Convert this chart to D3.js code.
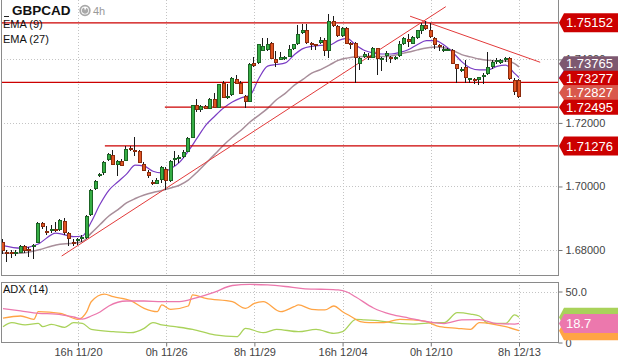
<!DOCTYPE html>
<html>
<head>
<meta charset="utf-8">
<script src="https://cdn.jsdelivr.net/npm/d3@7"></script>
<style>
body { margin: 0; background: #fff; }
svg { display: block; font-family: "Liberation Sans", Arial, sans-serif; }
</style>
</head>
<body>
<div id="chart"></div>
<script>
// GBPCAD 4h candles, index 0..117
const opens = [
  1.6826, 1.6795, 1.6794, 1.6790, 1.6792, 1.6813, 1.6803, 1.6808, 1.6823, 1.6886,
  1.6861, 1.6861, 1.6866, 1.6863, 1.6892, 1.6852, 1.6825, 1.6829, 1.6834, 1.6837,
  1.6910, 1.6991, 1.7032, 1.7041, 1.7083, 1.7098, 1.7067, 1.7080, 1.7081, 1.7121,
  1.7116, 1.7111, 1.7072, 1.7046, 1.7013, 1.7009, 1.7020, 1.7056, 1.7017, 1.7085,
  1.7087, 1.7093, 1.7109, 1.7154, 1.7255, 1.7242, 1.7252, 1.7245, 1.7274, 1.7248,
  1.7327, 1.7277, 1.7287, 1.7339, 1.7327, 1.7284, 1.7266, 1.7388, 1.7389, 1.7428,
  1.7431, 1.7451, 1.7401, 1.7399, 1.7401, 1.7407, 1.7433, 1.7447, 1.7482, 1.7494,
  1.7452, 1.7447, 1.7451, 1.7462, 1.7428, 1.7521, 1.7505, 1.7474, 1.7500, 1.7453,
  1.7453, 1.7384, 1.7406, 1.7412, 1.7404, 1.7436, 1.7400, 1.7411, 1.7407, 1.7401,
  1.7412, 1.7449, 1.7465, 1.7450, 1.7466, 1.7488, 1.7507, 1.7491, 1.7467, 1.7444,
  1.7428, 1.7428, 1.7430, 1.7384, 1.7365, 1.7376, 1.7338, 1.7338, 1.7334, 1.7346,
  1.7355, 1.7376, 1.7391, 1.7388, 1.7397, 1.7405, 1.7334, 1.7334
];
const highs = [
  1.6835, 1.6800, 1.6800, 1.6800, 1.6816, 1.6816, 1.6810, 1.6819, 1.6889, 1.6888,
  1.6875, 1.6879, 1.6889, 1.6897, 1.6900, 1.6856, 1.6834, 1.6838, 1.6847, 1.6910,
  1.6992, 1.7020, 1.7042, 1.7079, 1.7106, 1.7114, 1.7083, 1.7086, 1.7127, 1.7127,
  1.7156, 1.7114, 1.7076, 1.7051, 1.7020, 1.7026, 1.7064, 1.7061, 1.7083, 1.7111,
  1.7098, 1.7114, 1.7155, 1.7258, 1.7275, 1.7255, 1.7255, 1.7277, 1.7295, 1.7324,
  1.7331, 1.7321, 1.7346, 1.7350, 1.7331, 1.7287, 1.7390, 1.7406, 1.7450, 1.7466,
  1.7466, 1.7456, 1.7428, 1.7423, 1.7412, 1.7444, 1.7450, 1.7507, 1.7512, 1.7512,
  1.7456, 1.7450, 1.7472, 1.7466, 1.7543, 1.7538, 1.7507, 1.7503, 1.7503, 1.7456,
  1.7456, 1.7409, 1.7422, 1.7419, 1.7439, 1.7437, 1.7409, 1.7428, 1.7412, 1.7412,
  1.7459, 1.7472, 1.7480, 1.7475, 1.7494, 1.7516, 1.7522, 1.7516, 1.7472, 1.7447,
  1.7441, 1.7437, 1.7434, 1.7387, 1.7375, 1.7397, 1.7343, 1.7343, 1.7346, 1.7356,
  1.7423, 1.7397, 1.7403, 1.7400, 1.7409, 1.7409, 1.7340, 1.7337
];
const lows = [
  1.6787, 1.6763, 1.6775, 1.6781, 1.6791, 1.6791, 1.6779, 1.6771, 1.6821, 1.6866,
  1.6847, 1.6853, 1.6857, 1.6860, 1.6847, 1.6813, 1.6813, 1.6816, 1.6825, 1.6835,
  1.6907, 1.6988, 1.7029, 1.7036, 1.7080, 1.7067, 1.7033, 1.7064, 1.7080, 1.7111,
  1.7095, 1.7073, 1.7048, 1.7026, 1.7004, 1.7007, 1.7010, 1.6988, 1.7014, 1.7064,
  1.7073, 1.7089, 1.7108, 1.7152, 1.7234, 1.7234, 1.7243, 1.7243, 1.7246, 1.7246,
  1.7277, 1.7275, 1.7284, 1.7321, 1.7290, 1.7246, 1.7265, 1.7375, 1.7387, 1.7425,
  1.7428, 1.7400, 1.7376, 1.7397, 1.7397, 1.7406, 1.7431, 1.7445, 1.7481, 1.7450,
  1.7431, 1.7431, 1.7450, 1.7412, 1.7404, 1.7503, 1.7472, 1.7472, 1.7447, 1.7434,
  1.7327, 1.7368, 1.7403, 1.7397, 1.7403, 1.7350, 1.7365, 1.7391, 1.7390, 1.7397,
  1.7409, 1.7444, 1.7438, 1.7447, 1.7463, 1.7481, 1.7494, 1.7468, 1.7434, 1.7428,
  1.7422, 1.7425, 1.7384, 1.7327, 1.7359, 1.7327, 1.7327, 1.7323, 1.7318, 1.7323,
  1.7350, 1.7371, 1.7387, 1.7384, 1.7393, 1.7334, 1.7287, 1.7280
];
const closes = [
  1.6797, 1.6787, 1.6791, 1.6795, 1.6813, 1.6798, 1.6800, 1.6816, 1.6886, 1.6873,
  1.6854, 1.6867, 1.6860, 1.6894, 1.6854, 1.6834, 1.6821, 1.6835, 1.6842, 1.6907,
  1.6988, 1.7017, 1.7039, 1.7077, 1.7101, 1.7069, 1.7080, 1.7065, 1.7119, 1.7116,
  1.7111, 1.7075, 1.7050, 1.7033, 1.7007, 1.7020, 1.7061, 1.7018, 1.7080, 1.7090,
  1.7092, 1.7109, 1.7153, 1.7255, 1.7242, 1.7252, 1.7245, 1.7274, 1.7248, 1.7321,
  1.7279, 1.7284, 1.7342, 1.7323, 1.7292, 1.7267, 1.7386, 1.7378, 1.7447, 1.7441,
  1.7447, 1.7402, 1.7389, 1.7407, 1.7407, 1.7433, 1.7447, 1.7481, 1.7494, 1.7453,
  1.7447, 1.7441, 1.7462, 1.7428, 1.7521, 1.7505, 1.7474, 1.7500, 1.7449, 1.7448,
  1.7404, 1.7404, 1.7417, 1.7405, 1.7436, 1.7402, 1.7404, 1.7420, 1.7400, 1.7407,
  1.7449, 1.7466, 1.7454, 1.7469, 1.7491, 1.7507, 1.7497, 1.7470, 1.7444, 1.7438,
  1.7433, 1.7433, 1.7386, 1.7371, 1.7371, 1.7342, 1.7342, 1.7334, 1.7346, 1.7350,
  1.7376, 1.7393, 1.7397, 1.7397, 1.7404, 1.7339, 1.7297, 1.72827
];

// EMA readings at these candle indices
const emaIdx = [0, 4, 8, 12, 16, 18, 20, 22, 24, 26, 28, 30, 32, 34, 36, 38, 40, 42, 44, 46,
  48, 50, 52, 54, 56, 58, 60, 62, 64, 66, 68, 70, 72, 74, 76, 78, 80, 82, 84, 86,
  88, 90, 92, 94, 96, 98, 100, 102, 104, 106, 108, 110, 112, 114, 116, 117];
const ema9 = [1.6814, 1.6806, 1.6819, 1.6853, 1.6842, 1.6844, 1.6888, 1.6944, 1.6988, 1.7014,
  1.7039, 1.7067, 1.7064, 1.7048, 1.7043, 1.7056, 1.7076, 1.7111, 1.7152, 1.7193,
  1.7221, 1.7247, 1.7266, 1.7279, 1.7287, 1.7340, 1.7379, 1.7384, 1.7389, 1.7414,
  1.7434, 1.7441, 1.7444, 1.7445, 1.7459, 1.7466, 1.7445, 1.7428, 1.7420, 1.7417,
  1.7417, 1.7422, 1.7431, 1.7447, 1.7459, 1.7459, 1.7445, 1.7422, 1.7393, 1.7373,
  1.7367, 1.7367, 1.7378, 1.7382, 1.7356, 1.7343];
const ema27 = [1.6790, 1.6790, 1.6800, 1.6816, 1.6822, 1.6827, 1.6853, 1.6880, 1.6907, 1.6926,
  1.6948, 1.6962, 1.6973, 1.6981, 1.6987, 1.6995, 1.7004, 1.7020, 1.7045, 1.7073,
  1.7101, 1.7130, 1.7155, 1.7177, 1.7203, 1.7224, 1.7246, 1.7273, 1.7293, 1.7318,
  1.7337, 1.7357, 1.7368, 1.7382, 1.7397, 1.7404, 1.7408, 1.7409, 1.7409, 1.7409,
  1.7411, 1.7417, 1.7423, 1.7430, 1.7436, 1.7439, 1.7437, 1.7428, 1.7415, 1.7408,
  1.7401, 1.7397, 1.7395, 1.7395, 1.7387, 1.73765];

// ADX (14) panel readings
const adxIdx = [0, 4, 8, 12, 16, 18, 20, 22, 24, 28, 32, 36, 40, 44, 48, 52, 56, 60, 64, 68,
  72, 76, 78, 80, 84, 88, 92, 96, 100, 104, 108, 112, 116, 117];
const adxVals = [33.3, 31.1, 28.6, 27.9, 25.0, 23.0, 26.0, 29.9, 35.8, 40.7, 40.7, 40.0, 40.0, 44.1,
  49.5, 55.9, 56.9, 56.4, 54.9, 52.9, 52.2, 51.5, 49.5, 44.6, 33.8, 27.5, 24.0, 20.6,
  18.6, 22.1, 22.5, 18.6, 18.1, 18.7];
const minusIdx = [0, 4, 7, 8, 13, 17, 19, 20, 23, 25, 29, 32, 35, 36, 38, 42, 43, 46, 52, 55,
  57, 59, 63, 66, 67, 70, 73, 75, 77, 79, 81, 83, 86, 90, 93, 96, 99, 103, 106, 108,
  111, 114, 117];
const minusVals = [24.0, 26.0, 22.7, 30.2, 28.6, 22.7, 30.2, 40.0, 47.5, 44.9, 41.0, 33.5, 30.2, 36.8,
  32.5, 35.8, 46.6, 43.3, 40.0, 33.5, 38.4, 40.0, 30.2, 35.1, 36.8, 32.5, 31.9, 35.8,
  30.2, 25.3, 20.4, 19.4, 19.4, 22.7, 22.1, 20.4, 15.5, 13.9, 12.9, 19.4, 18.1, 15.5, 11.6];
const plusIdx = [0, 2, 5, 8, 9, 11, 14, 16, 18, 20, 25, 29, 32, 34, 36, 39, 43, 48, 53, 55,
  59, 62, 67, 71, 75, 77, 80, 82, 85, 88, 93, 98, 100, 103, 106, 108, 110, 114, 116, 117];
const plusVals = [15.5, 19.4, 17.2, 18.8, 15.5, 17.8, 14.9, 19.4, 18.8, 12.9, 10.6, 9.6, 13.9, 19.4,
  17.2, 15.5, 12.9, 7.4, 5.7, 13.9, 9.6, 12.9, 10.6, 12.9, 9.0, 10.6, 22.7, 22.1,
  21.4, 19.4, 18.1, 19.4, 19.4, 29.2, 27.9, 26.0, 18.8, 18.8, 27.0, 24.7];

// axes
const timeTicks = [17, 37, 57, 77, 97, 117];
const timeLabels = ["16h 11/20", "0h 11/26", "8h 11/29", "16h 12/04", "0h 12/10", "8h 12/13"];
const priceTicks = [1.68, 1.70, 1.72, 1.74];
const adxTicks = [0, 50];

// support / resistance levels and trend lines
const levelValues = [1.75152, 1.73277, 1.72495, 1.71276];
const levelStart = [-1, -1, 36.7, 23.1];
const trendStart = [[13.3, 1.6781], [92.3, 1.7536]];
const trendEnd = [[100.4, 1.7566], [121.8, 1.7391]];

const width = 618, height = 363;
const plotLeft = 1, plotRight = 558;
const mainTop = 0, mainBottom = 276, adxTop = 282, adxBottom = 343;

const svg = d3.select("#chart").append("svg")
    .attr("width", width)
    .attr("height", height);

const x = d3.scaleLinear().domain([0, 117]).range([3, 519]);
const y = d3.scaleLinear().domain([1.68, 1.74]).range([250, 59.4]);
const yAdx = d3.scaleLinear().domain([0, 50]).range([342.5, 291.5]);

const defs = svg.append("defs");
defs.append("clipPath").attr("id", "clipMain").append("rect")
    .attr("x", plotLeft).attr("y", mainTop)
    .attr("width", plotRight - plotLeft).attr("height", mainBottom - mainTop);
defs.append("clipPath").attr("id", "clipAdx").append("rect")
    .attr("x", plotLeft).attr("y", adxTop)
    .attr("width", plotRight - plotLeft).attr("height", adxBottom - adxTop);

// grid
const grid = svg.append("g")
    .attr("stroke", "#c4c4c4")
    .attr("stroke-dasharray", "1,2")
    .attr("shape-rendering", "crispEdges");
timeTicks.forEach(t => {
    const gx = Math.round(x(t)) + 0.5;
    grid.append("line").attr("x1", gx).attr("x2", gx).attr("y1", mainTop).attr("y2", mainBottom);
    grid.append("line").attr("x1", gx).attr("x2", gx).attr("y1", adxTop).attr("y2", adxBottom);
});
priceTicks.forEach(p => {
    const gy = Math.round(y(p)) + 0.5;
    grid.append("line").attr("x1", plotLeft).attr("x2", plotRight).attr("y1", gy).attr("y2", gy);
});
grid.append("line").attr("x1", plotLeft).attr("x2", plotRight)
    .attr("y1", Math.round(yAdx(50)) + 0.5).attr("y2", Math.round(yAdx(50)) + 0.5);

// main panel
const main = svg.append("g").attr("clip-path", "url(#clipMain)");

const lineEma = (vals) => d3.line()
    .x((d, i) => x(emaIdx[i]))
    .y(d => y(d))
    .curve(d3.curveMonotoneX)(vals);

main.append("path").attr("d", lineEma(ema27))
    .attr("fill", "none").attr("stroke", "#a88e9a").attr("stroke-width", 1.5);
main.append("path").attr("d", lineEma(ema9))
    .attr("fill", "none").attr("stroke", "#7a3cc4").attr("stroke-width", 1.2);

// horizontal levels
levelValues.forEach((v, i) => {
    main.append("line")
        .attr("x1", x(levelStart[i])).attr("x2", plotRight)
        .attr("y1", y(v)).attr("y2", y(v))
        .attr("stroke", "#cc0000").attr("stroke-width", 1.3);
});
// trend lines
trendStart.forEach((s, i) => {
    main.append("line")
        .attr("x1", x(s[0])).attr("y1", y(s[1]))
        .attr("x2", x(trendEnd[i][0])).attr("y2", y(trendEnd[i][1]))
        .attr("stroke", "#e23a3a").attr("stroke-width", 1);
});

// candles
const candles = main.append("g").attr("shape-rendering", "crispEdges");
closes.forEach((c, i) => {
    const o = opens[i];
    const px = Math.round(x(i));
    const up = c >= o;
    const hi = Math.round(y(highs[i])), lo = Math.round(y(lows[i]));
    candles.append("rect")
        .attr("x", px - 1).attr("y", hi)
        .attr("width", 1).attr("height", Math.max(1, lo - hi))
        .attr("fill", "#1a1a1a");
    const top = Math.round(y(Math.max(o, c)));
    const bot = Math.round(y(Math.min(o, c)));
    const h = Math.max(2, bot - top);
    candles.append("rect")
        .attr("x", px - 2).attr("y", top)
        .attr("width", 4).attr("height", h)
        .attr("fill", up ? "#1b6424" : "#8c2a0c");
    if (h > 2) {
        candles.append("rect")
            .attr("x", px - 1).attr("y", top + 1)
            .attr("width", 2).attr("height", h - 2)
            .attr("fill", up ? "#36ad45" : "#df5422");
    }
});

// ADX panel
const adxG = svg.append("g").attr("clip-path", "url(#clipAdx)");
const adxLine = (idx, vals, color) => {
    adxG.append("path")
        .attr("d", d3.line().x((d, i) => x(idx[i])).y(d => yAdx(d)).curve(d3.curveMonotoneX)(vals))
        .attr("fill", "none").attr("stroke", color).attr("stroke-width", 1.3);
};
adxLine(plusIdx, plusVals, "#a9d25a");
adxLine(minusIdx, minusVals, "#ffa445");
adxLine(adxIdx, adxVals, "#ec78ad");

// frames
const frame = svg.append("g").attr("stroke", "#8a8a8a").attr("fill", "none")
    .attr("shape-rendering", "crispEdges");
frame.append("line").attr("x1", 1.5).attr("x2", 1.5).attr("y1", mainTop).attr("y2", mainBottom);
frame.append("line").attr("x1", plotLeft).attr("x2", plotRight + 0.5).attr("y1", mainBottom - 0.5).attr("y2", mainBottom - 0.5);
frame.append("line").attr("x1", plotRight + 0.5).attr("x2", plotRight + 0.5).attr("y1", mainTop).attr("y2", mainBottom);
frame.append("rect").attr("x", 1.5).attr("y", adxTop + 0.5)
    .attr("width", plotRight - 1).attr("height", adxBottom - adxTop - 1);

// axes
const priceAxis = svg.append("g")
    .attr("transform", "translate(" + (plotRight + 0.5) + ",0)")
    .call(d3.axisRight(y).tickValues(priceTicks).tickFormat(d3.format(".5f")).tickSize(4).tickPadding(3));
const adxAxis = svg.append("g")
    .attr("transform", "translate(" + (plotRight + 0.5) + ",0)")
    .call(d3.axisRight(yAdx).tickValues(adxTicks).tickFormat(d => d === 0 ? "0" : d.toFixed(1)).tickSize(4).tickPadding(3));
const timeAxis = svg.append("g")
    .attr("transform", "translate(0," + (adxBottom - 0.5) + ")")
    .call(d3.axisBottom(x).tickValues(timeTicks).tickFormat((d, i) => timeLabels[i]).tickSize(4).tickPadding(2));
[priceAxis, adxAxis, timeAxis].forEach(a => {
    a.select(".domain").remove();
    a.selectAll("line").attr("stroke", "#777");
    a.selectAll("text").attr("fill", "#444").style("font-size", "11px")
        .style("font-family", "'Liberation Sans', Arial, sans-serif");
});

// value tags on the right
const tag = (cy, color, text, h) => {
    const g = svg.append("g");
    g.append("path")
        .attr("d", "M559," + cy + "L564," + (cy - h / 2) + "L618," + (cy - h / 2) +
            "L618," + (cy + h / 2) + "L564," + (cy + h / 2) + "Z")
        .attr("fill", color);
    if (text) {
        g.append("text").attr("x", 566).attr("y", cy).attr("dy", "0.36em")
            .attr("fill", "#fff").style("font-size", "13px").text(text);
    }
};
tag(y(1.75152), "#cc0000", "1.75152", 19);
tag(y(1.71276), "#cc0000", "1.71276", 19);
// EMA(9) tag sits hidden behind the stacked tags
tag(y(ema9[ema9.length - 1]), "#7a3cc4", null, 15);

// stacked tags, pushed up so they do not overlap
const stack = [
    {v: 1.72495, color: "#cc0000", text: "1.72495"},
    {v: closes[closes.length - 1], color: "#d9584b", text: "1.72827"},
    {v: 1.73277, color: "#cc0000", text: "1.73277"},
    {v: ema27[ema27.length - 1], color: "#7d5870", text: "1.73765"}
];
let limit = Infinity;
stack.forEach(s => {
    s.cy = Math.min(y(s.v), limit);
    limit = s.cy - 14.5;
});
stack.slice().reverse().forEach(s => tag(s.cy, s.color, s.text, 15));

tag(yAdx(plusVals[plusVals.length - 1]), "#a9d25a", null, 19);
tag(yAdx(minusVals[minusVals.length - 1]), "#ffa445", null, 19);
tag(yAdx(adxVals[adxVals.length - 1]), "#ec78ad", "18.7", 19);

// title and legends
svg.append("line").attr("x1", 4).attr("x2", 9).attr("y1", 16.5).attr("y2", 16.5)
    .attr("stroke", "#222").attr("stroke-width", 1);
svg.append("text").attr("x", 12).attr("y", 15)
    .style("font-size", "13.5px").style("font-weight", "bold").attr("fill", "#111").text("GBPCAD");
const clock = svg.append("g").attr("transform", "translate(85,10.5)");
clock.append("circle").attr("r", 4.8).attr("fill", "#fff").attr("stroke", "#a8a8a8").attr("stroke-width", 1.8);
clock.append("path").attr("d", d3.arc()({innerRadius: 0, outerRadius: 3.2, startAngle: Math.PI * 0.15, endAngle: Math.PI * 1.9}))
    .attr("fill", "#a8a8a8");
svg.append("text").attr("x", 93).attr("y", 14.5)
    .style("font-size", "11px").attr("fill", "#999").text("4h");
svg.append("text").attr("x", 3).attr("y", 28)
    .style("font-size", "11px").attr("fill", "#111").text("EMA (9)");
svg.append("text").attr("x", 3).attr("y", 43)
    .style("font-size", "11px").attr("fill", "#111").text("EMA (27)");
svg.append("text").attr("x", 3).attr("y", 293)
    .style("font-size", "11px").attr("fill", "#111").text("ADX (14)");
</script>
</body>
</html>
